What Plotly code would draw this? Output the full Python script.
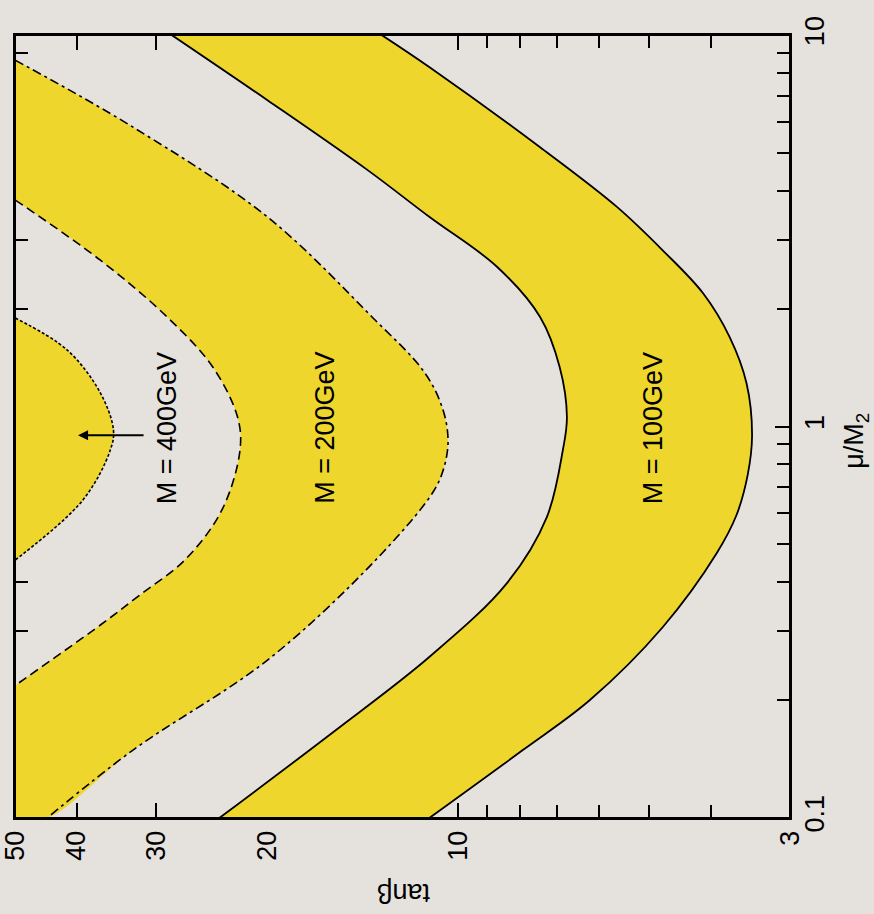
import numpy as np
import plotly.graph_objects as go

# ---- axis ranges / ticks ----
TANB_RANGE = [50, 3]          # left -> right
MU_RANGE = [0.1, 10]          # bottom -> top
tanb_major = [50, 40, 30, 20, 10, 3]
tanb_major_text = ["50", "40", "30", "20", "10", "3"]
tanb_minor = [9, 8, 7, 6, 5, 4]
mu_major = [0.1, 1, 10]
mu_major_text = ["0.1", "1", "10"]
mu_minor = [0.2, 0.3, 0.4, 0.5, 0.6, 0.7, 0.8, 0.9, 2, 3, 4, 5, 6, 7, 8, 9]

# ---- curves (tan beta as a function of mu/M2) ----
mu_100_out = [10.0, 8.28, 5.17, 3.64, 2.82, 2.19, 1.69, 1.29, 0.951, 0.752, 0.594, 0.475, 0.307, 0.200, 0.149, 0.1]
tb_100_out = [13.2, 11.1, 7.43, 5.62, 4.76, 4.11, 3.73, 3.51, 3.44, 3.495, 3.64, 3.91, 4.76, 6.20, 7.91, 11.1]

mu_100_in = [10.0, 6.82, 4.52, 3.43, 2.56, 1.905, 1.419, 1.057, 0.871, 0.587, 0.398, 0.258, 0.165, 0.1]
tb_100_in = [28.3, 20.0, 13.9, 11.1, 8.69, 7.43, 6.92, 6.74, 6.84, 7.25, 8.38, 11.1, 15.8, 23.8]

mu_200_out = [8.63, 5.82, 3.43, 1.905, 1.37, 1.102, 0.918, 0.783, 0.680, 0.456, 0.253, 0.149, 0.1]
tb_200_out = [50.0, 32.6, 20.0, 13.68, 11.29, 10.57, 10.38, 10.54, 10.96, 13.5, 20.0, 32.6, 44.5]

mu_200_in = [3.79, 2.66, 1.905, 1.419, 1.057, 0.871, 0.612, 0.456, 0.371, 0.311, 0.218]
tb_200_in = [50.0, 36.7, 28.8, 24.4, 22.3, 22.1, 23.6, 27.0, 31.8, 36.7, 50.0]

mu_400 = [1.893, 1.568, 1.218, 0.98, 0.871, 0.649, 0.456]
tb_400 = [50.0, 41.4, 36.7, 35.0, 35.4, 39.1, 50.0]

# ---- labels ----
label_text = ["M = 400GeV", "M = 200GeV", "M = 100GeV"]
label_tanb = [28.8, 16.2, 4.93]
label_mu = [0.99, 0.99, 0.99]

YELLOW = "#eed62c"
BG = "#e5e2de"
FONT = "Liberation Sans, Arial, sans-serif"

fig = go.Figure()

def hidden(x, y, fill=None):
    fig.add_trace(go.Scatter(x=x, y=y, mode="lines",
                             line=dict(width=0, shape="spline", color=YELLOW),
                             fill=fill, fillcolor=YELLOW,
                             hoverinfo="skip", showlegend=False))

# 100 GeV band: between outer and inner curve
hidden(tb_100_out, mu_100_out)
hidden(tb_100_in, mu_100_in, fill="tonexty")
# 200 GeV band: outer curve closed at the lower-left corner of the frame
hidden(tb_200_out + [TANB_RANGE[0]], mu_200_out + [MU_RANGE[0]])
hidden(tb_200_in, mu_200_in, fill="tonexty")
# 400 GeV region
hidden(tb_400, mu_400, fill="toself")

# boundary lines
def add_line(x, y, dash, w=1.8):
    fig.add_trace(go.Scatter(x=x, y=y, mode="lines",
                             line=dict(color="black", width=w, dash=dash, shape="spline"),
                             hoverinfo="skip", showlegend=False))

add_line(tb_100_out, mu_100_out, "solid")
add_line(tb_100_in, mu_100_in, "solid")
add_line(tb_200_out, mu_200_out, "9px,4px,3px,4px", 1.6)
add_line(tb_200_in, mu_200_in, "9px,5px", 1.6)
add_line(tb_400, mu_400, "3px,2px", 1.6)

# text labels
for t, xb, ym in zip(label_text, label_tanb, label_mu):
    fig.add_annotation(x=np.log10(xb), y=np.log10(ym), xref="x", yref="y",
                       text=t, showarrow=False, textangle=-90,
                       xanchor="center", yanchor="middle",
                       font=dict(family=FONT, size=27, color="black"))

# arrow pointing into the 400 GeV region
fig.add_annotation(x=np.log10(39.8), y=np.log10(0.95), xref="x", yref="y",
                   ax=67, ay=0, text="", showarrow=True,
                   arrowhead=2, arrowsize=1, arrowwidth=2, arrowcolor="black")

# axis titles (rotated as in the reference)
fig.add_annotation(x=0.502, y=-0.0958, xref="paper", yref="paper",
                   xanchor="center", yanchor="middle",
                   text="tanβ", showarrow=False, textangle=180,
                   font=dict(family=FONT, size=27, color="black"))
fig.add_annotation(x=1.085, y=0.4815, xref="paper", yref="paper",
                   xanchor="center", yanchor="middle",
                   text="μ/M<sub>2</sub>", showarrow=False, textangle=-90,
                   font=dict(family=FONT, size=27, color="black"))

# frame on top of the fills
fig.add_shape(type="rect", xref="paper", yref="paper", x0=0, y0=0, x1=1, y1=1,
              line=dict(color="black", width=2), layer="above")

axis_common = dict(type="log", showgrid=False, zeroline=False, automargin=False,
                   ticks="inside", ticklen=15, tickwidth=1.6, tickcolor="black",
                   showline=True, linecolor="black", linewidth=2, mirror="ticks",
                   tickangle=-90, layer="below traces",
                   tickfont=dict(family=FONT, size=27, color="black"))

eps = 0.0004
fig.update_xaxes(range=[np.log10(TANB_RANGE[0]) + eps, np.log10(TANB_RANGE[1]) - eps],
                 tickmode="array", tickvals=tanb_major, ticktext=tanb_major_text,
                 minor=dict(tickmode="array", tickvals=tanb_minor, ticks="inside",
                            ticklen=13, tickwidth=1.6, tickcolor="black", showgrid=False),
                 **axis_common)
fig.update_yaxes(range=[np.log10(MU_RANGE[0]) - eps, np.log10(MU_RANGE[1]) + eps],
                 tickmode="array", tickvals=mu_major, ticktext=mu_major_text,
                 minor=dict(tickmode="array", tickvals=mu_minor, ticks="inside",
                            ticklen=13, tickwidth=1.6, tickcolor="black", showgrid=False),
                 side="right", **axis_common)

fig.update_layout(width=874, height=914,
                  margin=dict(l=15, r=84, t=35, b=96),
                  paper_bgcolor=BG, plot_bgcolor=BG,
                  showlegend=False)

fig.write_html("out.html")
